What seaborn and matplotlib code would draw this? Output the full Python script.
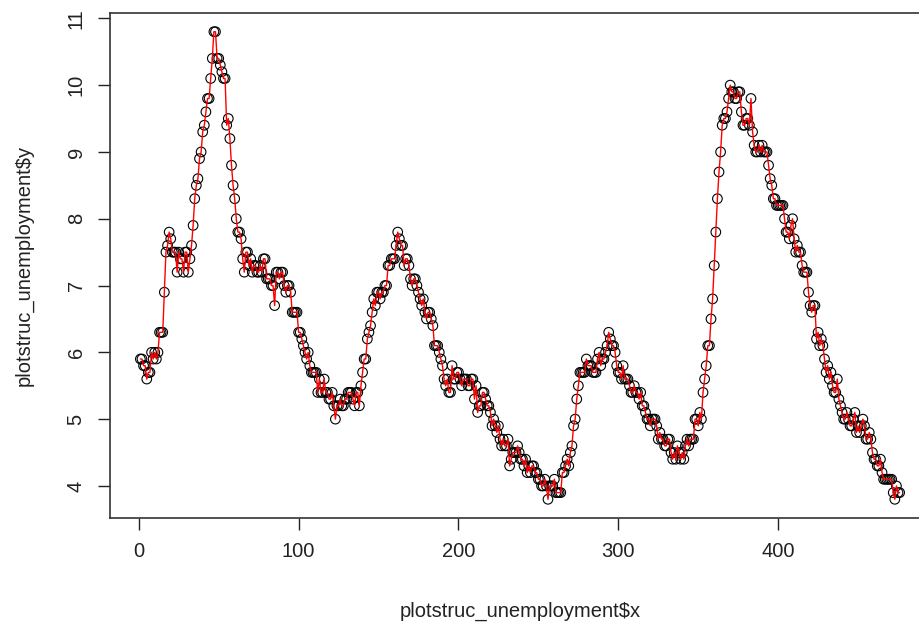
import numpy as np
import pandas as pd
import matplotlib
matplotlib.use("Agg")
import matplotlib.pyplot as plt
import seaborn as sns

# Monthly unemployment rate, index 1..476 (Jan 1979 - Aug 2018)
y1979 = [5.9, 5.9, 5.8, 5.8, 5.6, 5.7, 5.7, 6.0, 5.9, 6.0, 5.9, 6.0]
y1980 = [6.3, 6.3, 6.3, 6.9, 7.5, 7.6, 7.8, 7.7, 7.5, 7.5, 7.5, 7.2]
y1981 = [7.5, 7.4, 7.4, 7.2, 7.5, 7.5, 7.2, 7.4, 7.6, 7.9, 8.3, 8.5]
y1982 = [8.6, 8.9, 9.0, 9.3, 9.4, 9.6, 9.8, 9.8, 10.1, 10.4, 10.8, 10.8]
y1983 = [10.4, 10.4, 10.3, 10.2, 10.1, 10.1, 9.4, 9.5, 9.2, 8.8, 8.5, 8.3]
y1984 = [8.0, 7.8, 7.8, 7.7, 7.4, 7.2, 7.5, 7.5, 7.3, 7.4, 7.2, 7.3]
y1985 = [7.3, 7.2, 7.2, 7.3, 7.2, 7.4, 7.4, 7.1, 7.1, 7.1, 7.0, 7.0]
y1986 = [6.7, 7.2, 7.2, 7.1, 7.2, 7.2, 7.0, 6.9, 7.0, 7.0, 6.9, 6.6]
y1987 = [6.6, 6.6, 6.6, 6.3, 6.3, 6.2, 6.1, 6.0, 5.9, 6.0, 5.8, 5.7]
y1988 = [5.7, 5.7, 5.7, 5.4, 5.6, 5.4, 5.4, 5.6, 5.4, 5.4, 5.3, 5.3]
y1989 = [5.4, 5.2, 5.0, 5.2, 5.2, 5.3, 5.2, 5.2, 5.3, 5.3, 5.4, 5.4]
y1990 = [5.4, 5.3, 5.2, 5.4, 5.4, 5.2, 5.5, 5.7, 5.9, 5.9, 6.2, 6.3]
y1991 = [6.4, 6.6, 6.8, 6.7, 6.9, 6.9, 6.8, 6.9, 6.9, 7.0, 7.0, 7.3]
y1992 = [7.3, 7.4, 7.4, 7.4, 7.6, 7.8, 7.7, 7.6, 7.6, 7.3, 7.4, 7.4]
y1993 = [7.3, 7.1, 7.0, 7.1, 7.1, 7.0, 6.9, 6.8, 6.7, 6.8, 6.6, 6.5]
y1994 = [6.6, 6.6, 6.5, 6.4, 6.1, 6.1, 6.1, 6.0, 5.9, 5.8, 5.6, 5.5]
y1995 = [5.6, 5.4, 5.4, 5.8, 5.6, 5.6, 5.7, 5.7, 5.6, 5.5, 5.6, 5.6]
y1996 = [5.6, 5.5, 5.5, 5.6, 5.6, 5.3, 5.5, 5.1, 5.2, 5.2, 5.4, 5.4]
y1997 = [5.3, 5.2, 5.2, 5.1, 4.9, 5.0, 4.9, 4.8, 4.9, 4.7, 4.6, 4.7]
y1998 = [4.6, 4.6, 4.7, 4.3, 4.4, 4.5, 4.5, 4.5, 4.6, 4.5, 4.4, 4.4]
y1999 = [4.3, 4.4, 4.2, 4.3, 4.2, 4.3, 4.3, 4.2, 4.2, 4.1, 4.1, 4.0]
y2000 = [4.0, 4.1, 4.0, 3.8, 4.0, 4.0, 4.0, 4.1, 3.9, 3.9, 3.9, 3.9]
y2001 = [4.2, 4.2, 4.3, 4.4, 4.3, 4.5, 4.6, 4.9, 5.0, 5.3, 5.5, 5.7]
y2002 = [5.7, 5.7, 5.7, 5.9, 5.8, 5.8, 5.8, 5.7, 5.7, 5.7, 5.9, 6.0]
y2003 = [5.8, 5.9, 5.9, 6.0, 6.1, 6.3, 6.2, 6.1, 6.1, 6.0, 5.8, 5.7]
y2004 = [5.7, 5.6, 5.8, 5.6, 5.6, 5.6, 5.5, 5.4, 5.4, 5.5, 5.4, 5.4]
y2005 = [5.3, 5.4, 5.2, 5.2, 5.1, 5.0, 5.0, 4.9, 5.0, 5.0, 5.0, 4.9]
y2006 = [4.7, 4.8, 4.7, 4.7, 4.6, 4.6, 4.7, 4.7, 4.5, 4.4, 4.5, 4.4]
y2007 = [4.6, 4.5, 4.4, 4.5, 4.4, 4.6, 4.7, 4.6, 4.7, 4.7, 4.7, 5.0]
y2008 = [5.0, 4.9, 5.1, 5.0, 5.4, 5.6, 5.8, 6.1, 6.1, 6.5, 6.8, 7.3]
y2009 = [7.8, 8.3, 8.7, 9.0, 9.4, 9.5, 9.5, 9.6, 9.8, 10.0, 9.9, 9.9]
y2010 = [9.8, 9.8, 9.9, 9.9, 9.6, 9.4, 9.4, 9.5, 9.5, 9.4, 9.8, 9.3]
y2011 = [9.1, 9.0, 9.0, 9.1, 9.0, 9.1, 9.0, 9.0, 9.0, 8.8, 8.6, 8.5]
y2012 = [8.3, 8.3, 8.2, 8.2, 8.2, 8.2, 8.2, 8.0, 7.8, 7.8, 7.7, 7.9]
y2013 = [8.0, 7.7, 7.5, 7.6, 7.5, 7.5, 7.3, 7.2, 7.2, 7.2, 6.9, 6.7]
y2014 = [6.6, 6.7, 6.7, 6.2, 6.3, 6.1, 6.2, 6.1, 5.9, 5.7, 5.8, 5.6]
y2015 = [5.7, 5.5, 5.4, 5.4, 5.6, 5.3, 5.2, 5.1, 5.0, 5.0, 5.1, 5.0]
y2016 = [4.9, 4.9, 5.0, 5.1, 4.8, 4.9, 4.8, 4.9, 5.0, 4.9, 4.7, 4.7]
y2017 = [4.8, 4.7, 4.5, 4.4, 4.4, 4.3, 4.3, 4.4, 4.2, 4.1, 4.1, 4.1]
y2018 = [4.1, 4.1, 4.1, 3.9, 3.8, 4.0, 3.9, 3.9]

years = [y1979, y1980, y1981, y1982, y1983, y1984, y1985, y1986, y1987, y1988,
         y1989, y1990, y1991, y1992, y1993, y1994, y1995, y1996, y1997, y1998,
         y1999, y2000, y2001, y2002, y2003, y2004, y2005, y2006, y2007, y2008,
         y2009, y2010, y2011, y2012, y2013, y2014, y2015, y2016, y2017, y2018]
values = [v for yr in years for v in yr]
x_index = list(range(1, len(values) + 1))

x_ticks = [0, 100, 200, 300, 400]
y_ticks = [4, 5, 6, 7, 8, 9, 10, 11]

df = pd.DataFrame({"x": x_index, "y": values})

sns.set_style("ticks")
plt.rcParams["font.family"] = ["Liberation Sans", "DejaVu Sans"]

DPI = 100
fig = plt.figure(figsize=(920 / DPI, 629 / DPI), dpi=DPI)
W, H = 920, 629
left_px, right_px, top_px, bottom_px = 110, 930, 13, 518
ax = fig.add_axes([left_px / W, 1 - bottom_px / H,
                   (right_px - left_px) / W, (bottom_px - top_px) / H])

sns.scatterplot(data=df, x="x", y="y", ax=ax, marker="o", s=48,
                facecolors="none", edgecolor="black", linewidth=0.8, zorder=2)
sns.lineplot(data=df, x="x", y="y", ax=ax, color="red", linewidth=1.0,
             sort=False, zorder=3)

n = len(values)
xr = n - 1
ax.set_xlim(1 - 0.04 * xr, n + 0.04 * xr)
ymin, ymax = min(values), max(values)
yr = ymax - ymin
ax.set_ylim(ymin - 0.04 * yr, ymax + 0.04 * yr)

ax.set_xticks(x_ticks)
ax.set_yticks(y_ticks)
ax.set_xticklabels([str(t) for t in x_ticks])
ax.set_yticklabels([str(t) for t in y_ticks], rotation=90, va="center")

ax.tick_params(axis="both", direction="out", length=8.5, width=1.0,
               color="#222222", labelsize=14.5, labelcolor="#222222", pad=9)

for s in ax.spines.values():
    s.set_visible(True)
    s.set_color("#333333")
    s.set_linewidth(1.2)

ax.set_xlabel("plotstruc_unemployment$x", fontsize=14.5, color="#222222", labelpad=29)
ax.set_ylabel("plotstruc_unemployment$y", fontsize=14.5, color="#222222", labelpad=24)

fig.savefig("out.png", dpi=DPI)
